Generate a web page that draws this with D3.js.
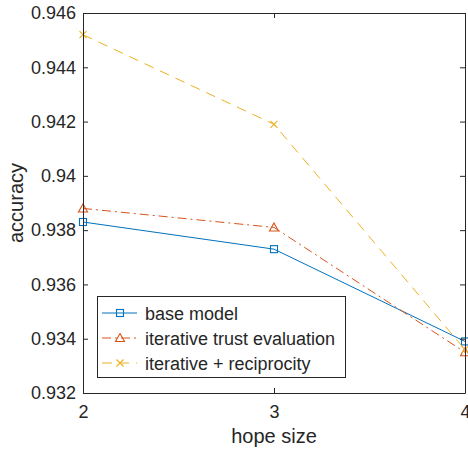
<!DOCTYPE html>
<html><head><meta charset="utf-8">
<script src="https://cdn.jsdelivr.net/npm/d3@7"></script>
<style>body{margin:0;background:#fff}svg{display:block}</style>
</head><body>
<svg id="c" width="468" height="451"></svg>
<script>
const hopSizes = [2, 3, 4];
const baseModel = [0.9383, 0.9373, 0.9339];
const iterativeTrust = [0.9388, 0.9381, 0.9335];
const iterativeRecip = [0.9452, 0.9419, 0.9336];
const yTicks = [0.932, 0.934, 0.936, 0.938, 0.94, 0.942, 0.944, 0.946];
const seriesNames = ["base model", "iterative trust evaluation", "iterative + reciprocity"];

const svg = d3.select("#c");
const L = 83, R = 465, T = 13, B = 393;
const x = d3.scaleLinear().domain([2, 4]).range([L, R]);
const y = d3.scaleLinear().domain([0.932, 0.946]).range([B, T]);
const font = "'Liberation Sans', Arial, Helvetica, sans-serif";
const ink = "#262626";

const series = [
  {name: seriesNames[0], vals: baseModel, color: "#0072BD", dash: null, marker: "square"},
  {name: seriesNames[1], vals: iterativeTrust, color: "#D95319", dash: "9,4,2,4", marker: "triangle"},
  {name: seriesNames[2], vals: iterativeRecip, color: "#EDB120", dash: "10,7", marker: "x"}
];

const line = d3.line().x((d, i) => x(hopSizes[i])).y(d => y(d));

function drawMarker(g, type, cx, cy, color) {
  if (type === "square") {
    g.append("rect").attr("x", cx - 3.5).attr("y", cy - 3.5).attr("width", 7).attr("height", 7)
      .attr("fill", "none").attr("stroke", color).attr("stroke-width", 1.1);
  } else if (type === "triangle") {
    g.append("path").attr("d", `M${cx},${cy - 4.5}L${cx + 4.5},${cy + 3.5}L${cx - 4.5},${cy + 3.5}Z`)
      .attr("fill", "none").attr("stroke", color).attr("stroke-width", 1.1);
  } else {
    g.append("path").attr("d", `M${cx - 3.5},${cy - 3.5}L${cx + 3.5},${cy + 3.5}M${cx - 3.5},${cy + 3.5}L${cx + 3.5},${cy - 3.5}`)
      .attr("fill", "none").attr("stroke", color).attr("stroke-width", 1.1);
  }
}

// series lines
const gLines = svg.append("g");
series.forEach(s => {
  gLines.append("path").datum(s.vals).attr("d", line).attr("fill", "none")
    .attr("stroke", s.color).attr("stroke-width", 1)
    .attr("stroke-dasharray", s.dash);
  s.vals.forEach((v, i) => drawMarker(gLines, s.marker, x(hopSizes[i]), y(v), s.color));
});

// axes
const axL = svg.append("g").attr("transform", `translate(${L},0)`)
  .call(d3.axisLeft(y).tickValues(yTicks).tickSizeInner(-5).tickSizeOuter(0).tickPadding(7)
    .tickFormat(d => String(+d.toFixed(3))));
const axR = svg.append("g").attr("transform", `translate(${R},0)`)
  .call(d3.axisRight(y).tickValues(yTicks).tickSizeInner(-5).tickSizeOuter(0).tickFormat(""));
const axB = svg.append("g").attr("transform", `translate(0,${B})`)
  .call(d3.axisBottom(x).tickValues(hopSizes).tickSizeInner(-5).tickSizeOuter(0).tickPadding(12).tickFormat(d3.format("d")));
const axT = svg.append("g").attr("transform", `translate(0,${T})`)
  .call(d3.axisTop(x).tickValues(hopSizes).tickSizeInner(-5).tickSizeOuter(0).tickFormat(""));
[axL, axR, axB, axT].forEach(a => {
  a.selectAll("path.domain").attr("stroke", ink).attr("stroke-width", 1);
  a.selectAll(".tick line").attr("stroke", ink).attr("stroke-width", 1);
  a.selectAll("text").attr("fill", ink).style("font-family", font).style("font-size", "18px");
});

// axis labels
svg.append("text").attr("x", (L + R) / 2).attr("y", 443).attr("text-anchor", "middle")
  .attr("fill", ink).style("font-family", font).style("font-size", "20px").text("hope size");
svg.append("text").attr("transform", `translate(23,${(T + B) / 2}) rotate(-90)`).attr("text-anchor", "middle")
  .attr("fill", ink).style("font-family", font).style("font-size", "20px").text("accuracy");

// legend
const lg = svg.append("g");
lg.append("rect").attr("x", 97.5).attr("y", 296.5).attr("width", 248).attr("height", 81)
  .attr("fill", "#fff").attr("stroke", ink).attr("stroke-width", 1);
series.forEach((s, i) => {
  const ly = 313 + i * 25;
  lg.append("line").attr("x1", 102).attr("x2", 137).attr("y1", ly).attr("y2", ly)
    .attr("stroke", s.color).attr("stroke-width", 1).attr("stroke-dasharray", s.dash);
  drawMarker(lg, s.marker, 120, ly, s.color);
  lg.append("text").attr("x", 145).attr("y", ly + 6.5).attr("fill", ink)
    .style("font-family", font).style("font-size", "18px").text(s.name);
});
</script>
</body></html>
